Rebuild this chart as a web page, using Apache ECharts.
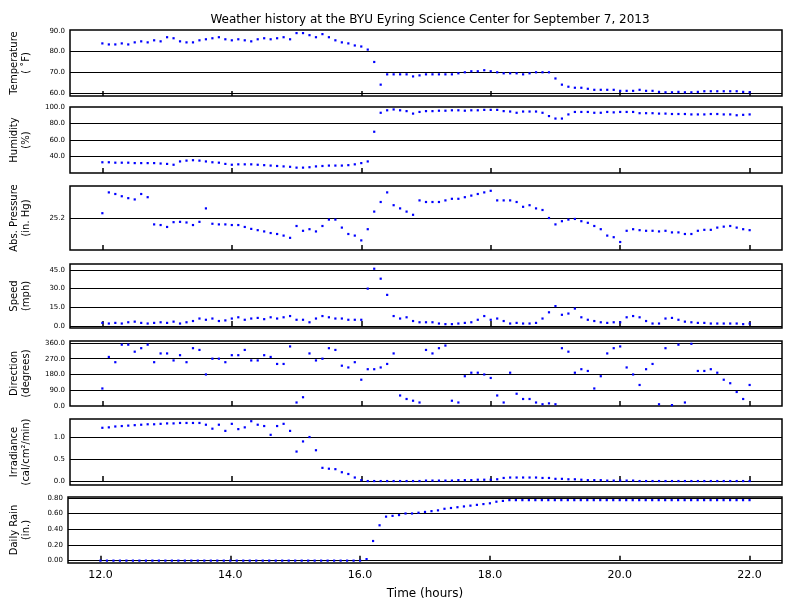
<!DOCTYPE html>
<html><head><meta charset="utf-8">
<script src="https://cdn.jsdelivr.net/npm/echarts@6/dist/echarts.min.js"></script>
<style>html,body{margin:0;padding:0;background:#fff}#c{width:792px;height:611px}</style>
</head><body><div id="c"></div>
<script>
var times = [];
for (var i = 0; i <= 100; i++) times.push(Math.round((12 + i * 0.1) * 10) / 10);
var xTicks = [12, 14, 16, 18, 20, 22];

var temperature = [84,83.5,83.5,84,83.5,84.5,85,84.5,85.5,85,
87,86.5,85,84.5,84.5,85.5,86,86.5,87,86,
85.5,86,85.5,85,86,86.5,86,86.5,87,86,
89,89,88,87,88.5,87,85.5,84.5,84,83,
82.5,81,75,64,69,69,69,69,68,68.5,
69,69,69,69,69,69.5,70,70.5,70.5,71,
70.5,70,69.5,69.5,69.5,69,69.5,70,70,70,
67,64,63,62.5,62.5,62,61.5,61.5,61.5,61.5,
61,61,61,61.5,61,61,60.5,60.3,60.3,60.5,
60.3,60.3,60.5,60.8,60.8,60.8,60.8,60.8,60.8,60.5,
60.3];
var humidity = [33,33,32.5,32.5,32.5,32,32,32,32,31.5,
31,30,34,35,35.5,35,34,33,32.5,31,
30,30.5,30.5,30.5,30,29.5,29,28.5,28,27.5,
26.5,26.5,27,28,28.5,29,29,29,29.5,30.5,
32,34,70,93,96,97,96,95,92,94,
95,95,95.5,95.5,96,96,95.5,96,96,96.5,
96.5,96.5,95,94.5,93,94.5,94.5,94.5,93,89,
86,86,91,94,94,94,93,93,94,93.5,
94,94,94,92.5,92.5,92.5,92,92,91.5,91.5,
91.5,91,91,91,91.5,91.5,91,91,90,90.5,
91];
var pressure = [25.215,25.28,25.275,25.268,25.262,25.258,25.275,25.265,25.18,25.178,
25.172,25.187,25.188,25.186,25.178,25.188,25.23,25.182,25.18,25.18,
25.178,25.178,25.172,25.166,25.162,25.158,25.153,25.15,25.145,25.138,
25.175,25.16,25.165,25.158,25.175,25.195,25.195,25.17,25.15,25.145,
25.13,25.165,25.22,25.25,25.28,25.24,25.23,25.22,25.21,25.255,
25.25,25.25,25.25,25.255,25.26,25.26,25.265,25.27,25.275,25.28,
25.285,25.255,25.255,25.255,25.25,25.235,25.24,25.23,25.225,25.2,
25.18,25.19,25.195,25.197,25.19,25.185,25.175,25.165,25.145,25.14,
25.125,25.16,25.165,25.162,25.16,25.16,25.158,25.16,25.155,25.155,
25.15,25.15,25.16,25.163,25.163,25.17,25.173,25.175,25.17,25.165,
25.162];
var speed = [2.5,2,2.5,2,3,3.5,2.5,2,2.5,3,
2.5,3.5,2,3,4,6,5,6,4,4.5,
6,7,5,6,6.5,5.5,7,6,7,8,
5,5,3,6,8,7,6,6,5,5,
5,30,46,38,25,8,6,7,4,3,
3,3,2,1.5,1.5,2,2.5,3,5,8,
5,6,4,2,2.5,2,2,2.5,6,11,
16,9,10,14,7,5,4,3,2.5,3,
3,7,8,7,4,2,2,6,6.5,5,
3.5,3,2.5,2.5,2,2,2,2,2,1.5,
2];
var direction = [100,280,250,350,350,310,330,350,250,300,
300,260,290,250,330,320,180,270,270,250,
290,290,320,260,260,290,280,240,240,340,
20,50,300,260,270,330,320,230,220,250,
150,210,210,220,240,300,60,40,30,20,
320,300,330,345,30,20,170,190,190,180,
160,60,20,190,70,40,40,20,10,15,
10,330,310,190,210,200,100,170,300,330,
340,220,180,120,210,240,10,330,5,350,
20,355,200,200,210,190,150,130,80,40,
120];
var irradiance = [1.21,1.22,1.24,1.25,1.26,1.27,1.28,1.29,1.29,1.3,
1.31,1.31,1.32,1.32,1.32,1.32,1.28,1.19,1.28,1.14,
1.3,1.18,1.22,1.36,1.28,1.25,1.05,1.25,1.3,1.14,
0.67,0.9,1.0,0.7,0.3,0.28,0.27,0.2,0.16,0.08,
0.02,0,0,0,0,0,0,0,0,0,
0.01,0.01,0.01,0.01,0.01,0.02,0.02,0.02,0.03,0.03,
0.03,0.04,0.07,0.08,0.08,0.08,0.08,0.08,0.07,0.07,
0.05,0.05,0.04,0.04,0.03,0.02,0.02,0.02,0.01,0.01,
0.01,0.01,0.01,0,0,0,0,0,0,0,
0,0,0,0,0,0,0,0,0,0,
0];
var rain = [0,0,0,0,0,0,0,0,0,0,
0,0,0,0,0,0,0,0,0,0,
0,0,0,0,0,0,0,0,0,0,
0,0,0,0,0,0,0,0,0,0,
0,0.02,0.25,0.45,0.56,0.57,0.58,0.6,0.6,0.61,
0.62,0.63,0.64,0.66,0.67,0.68,0.69,0.7,0.71,0.72,
0.73,0.75,0.76,0.77,0.77,0.77,0.77,0.77,0.77,0.77,
0.77,0.77,0.77,0.77,0.77,0.77,0.77,0.77,0.77,0.77,
0.77,0.77,0.77,0.77,0.77,0.77,0.77,0.77,0.77,0.77,
0.77,0.77,0.77,0.77,0.77,0.77,0.77,0.77,0.77,0.77,
0.77];

var panels = [
 {name:'Temperature\n( ˚F)', data:temperature, min:58.5, max:90.5, labels:[60,70,80,90], lines:[60,70,80], dec:1, top:30, h:66},
 {name:'Humidity\n(%)', data:humidity, min:20, max:100, labels:[40,60,80,100], lines:[40,60,80], dec:1, top:107, h:66},
 {name:'Abs. Pressure\n(in. Hg)', data:pressure, min:25.1, max:25.3, labels:[25.2], lines:[25.2], dec:1, top:186, h:64},
 {name:'Speed\n(mph)', data:speed, min:-1.6, max:49.8, labels:[0,15,30,45], lines:[0,15,30,45], dec:1, top:264, h:64},
 {name:'Direction\n(degrees)', data:direction, min:0, max:371, labels:[0,90,180,270,360], lines:[90,180,270,360], dec:1, top:341, h:65},
 {name:'Irradiance\n(cal/cm²/min)', data:irradiance, min:-0.09, max:1.41, labels:[0,0.5,1.0], lines:[0,0.5,1.0], dec:1, top:419, h:66},
 {name:'Daily Rain\n(in.)', data:rain, min:-0.03, max:0.81, labels:[0,0.2,0.4,0.6,0.8], lines:[0,0.2,0.4,0.6,0.8], dec:2, top:497, h:66}
];

var grids=[], xAxes=[], yAxes=[], series=[];
panels.forEach(function(p, k){
  var last = k === panels.length - 1;
  grids.push({left:68, right:10, top:p.top, height:p.h, show:true, borderColor:'#000', borderWidth:1.5, backgroundColor:'#fff'});
  xAxes.push({type:'value', gridIndex:k, min:11.5, max:22.5,
    axisLine:{show:false}, splitLine:{show:false},
    axisTick:{show:true, inside:true, length:5, customValues:xTicks, lineStyle:{color:'#000', width:1.5}},
    axisLabel:{show:last, customValues:xTicks, formatter:function(v){return v.toFixed(1);}, fontFamily:'DejaVu Sans', fontSize:11, color:'#000', margin:7},
    name: last ? 'Time (hours)' : '', nameLocation:'middle', nameGap:25,
    nameTextStyle:{fontFamily:'DejaVu Sans', fontSize:12, color:'#000'}});
  yAxes.push({type:'value', gridIndex:k, min:p.min, max:p.max,
    axisLine:{show:false}, splitLine:{show:false}, axisTick:{show:false},
    axisLabel:{customValues:p.labels, formatter:(function(d){return function(v){return v.toFixed(d);};})(p.dec), fontFamily:'DejaVu Sans', fontSize:7, color:'#000', margin:5},
    name:p.name, nameLocation:'middle', nameGap:p.dec===2?36:38, nameRotate:90,
    nameTextStyle:{fontFamily:'DejaVu Sans', fontSize:10, color:'#000', lineHeight:12}});
  series.push({type:'line', xAxisIndex:k, yAxisIndex:k, data:[], z:1, silent:true,
    markLine:{silent:true, symbol:'none', label:{show:false}, animation:false,
      lineStyle:{color:'#000', width:1, type:'solid'},
      data:p.lines.map(function(v){return {yAxis:v};})}});
  series.push({type:'scatter', xAxisIndex:k, yAxisIndex:k, symbol:'rect', symbolSize:2.2, z:5,
    itemStyle:{color:'#0000ff', opacity:1}, silent:true,
    data: times.map(function(t,i){return [t, p.data[i]];})});
});

var chart = echarts.init(document.getElementById('c'));
chart.setOption({
  animation:false, backgroundColor:'#fff',
  title:{text:'Weather history at the BYU Eyring Science Center for September 7, 2013', left:425, textAlign:'center', top:9,
    textStyle:{fontFamily:'DejaVu Sans', fontSize:12, fontWeight:'normal', color:'#000'}},
  grid:grids, xAxis:xAxes, yAxis:yAxes, series:series
});
</script></body></html>
